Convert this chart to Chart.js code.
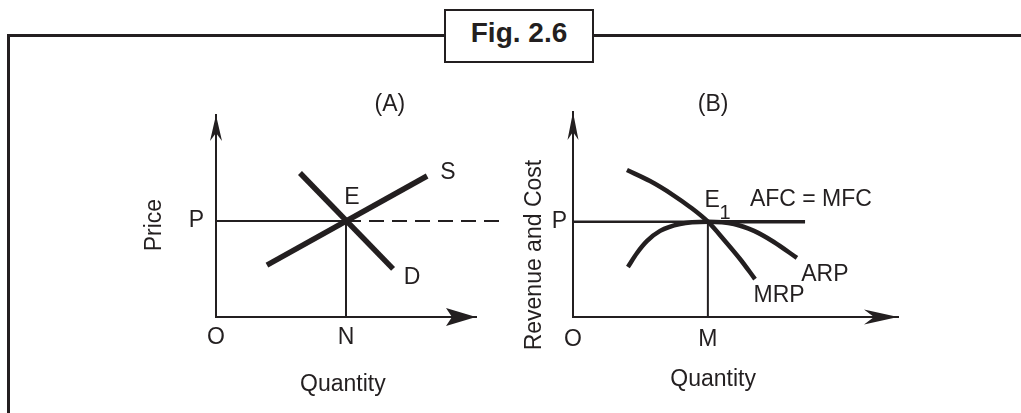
<!DOCTYPE html>
<html>
<head>
<meta charset="utf-8">
<title>Fig. 2.6</title>
<script src="https://cdn.jsdelivr.net/npm/chart.js@4.4.0/dist/chart.umd.min.js"></script>
<style>
  body { margin: 0; width: 1021px; height: 413px; overflow: hidden; background: #fff; position: relative; font-family: "Liberation Sans", Arial, sans-serif; }
  #frame { position: absolute; left: 7px; top: 34px; right: -10px; bottom: -10px; border-top: 3px solid #231f20; border-left: 3px solid #231f20; }
  #title { position: absolute; left: 444px; top: 9px; width: 146px; height: 50px; border: 2px solid #231f20; background: #fff; color: #231f20; font-weight: bold; font-size: 28px; text-align: center; line-height: 44px; }
  canvas { position: absolute; }
  #chartA { left: 110px; top: 70px; }
  #chartB { left: 480px; top: 70px; }
</style>
</head>
<body>
<div id="frame"></div>
<div id="title">Fig. 2.6</div>
<canvas id="chartA" width="410" height="340"></canvas>
<canvas id="chartB" width="530" height="340"></canvas>
<script>
const INK = "#231f20";
const FONT = '"Liberation Sans", Arial, Helvetica, sans-serif';

// (A) supply and demand
const supplyX = [1.96, 8.12];
const supplyY = [2.57, 6.98];
const demandX = [3.23, 6.81];
const demandY = [7.13, 2.38];
const priceA = 4.75;
const quantityN = 5.0;
const dashEndA = 10.92;
const xTicksA = [0, quantityN];
const xTickLabelsA = ["O", "N"];
const yTicksA = [priceA];
const yTickLabelsA = ["P"];

// (B) MRP / ARP against AFC = MFC
const mrpX = [1.66, 2.37, 3.08, 3.6, 4.15, 4.65, 5.14, 5.6];
const mrpY = [7.17, 6.63, 5.95, 5.37, 4.65, 3.76, 2.83, 1.85];
const arpX = [1.69, 1.97, 2.28, 2.68, 3.29, 4.15, 4.95, 5.57, 6.18, 6.89];
const arpY = [2.44, 3.12, 3.71, 4.2, 4.54, 4.65, 4.54, 4.2, 3.66, 2.88];
const priceB = 4.65;
const quantityM = 4.15;
const afcEnd = 7.14;
const xTicksB = [0, quantityM];
const xTickLabelsB = ["O", "M"];
const yTicksB = [priceB];
const yTickLabelsB = ["P"];

function pts(xs, ys) {
  return xs.map((x, i) => ({ x: x, y: ys[i] }));
}

function line(data, width, extra) {
  return Object.assign({
    data: data,
    borderColor: INK,
    borderWidth: width,
    showLine: true,
    pointRadius: 0,
    fill: false,
    clip: false,
  }, extra || {});
}

function arrowHead(ctx, tipX, tipY, dx, dy, len, half, notch) {
  let bx = tipX - dx * len, by = tipY - dy * len;
  let nx = -dy, ny = dx;
  ctx.beginPath();
  ctx.moveTo(tipX, tipY);
  ctx.lineTo(bx + nx * half, by + ny * half);
  ctx.lineTo(tipX - dx * notch, tipY - dy * notch);
  ctx.lineTo(bx - nx * half, by - ny * half);
  ctx.closePath();
  ctx.fill();
}

// arrow heads on the axes + free text labels
const sketch = {
  id: "sketch",
  afterDraw(chart, args, opts) {
    let ctx = chart.ctx;
    let xs = chart.scales.x, ys = chart.scales.y;
    ctx.save();
    ctx.fillStyle = INK;
    let ox = xs.getPixelForValue(0), oy = ys.getPixelForValue(0);
    arrowHead(ctx, xs.getPixelForValue(xs.max), oy, 1, 0, ...opts.xArrow);
    arrowHead(ctx, ox, ys.getPixelForValue(ys.max), 0, -1, ...opts.yArrow);

    opts.labels.forEach((l) => {
      ctx.save();
      ctx.font = (l.size || 23) + "px " + FONT;
      ctx.textAlign = "center";
      ctx.textBaseline = "middle";
      ctx.translate(xs.getPixelForValue(l.x), ys.getPixelForValue(l.y));
      if (l.rotate) ctx.rotate(-Math.PI / 2);
      ctx.fillText(l.text, 0, 0);
      ctx.restore();
    });
    ctx.restore();
  },
};

function axes(xTicks, xLabels, yTicks, yLabels, yWidth, xPad, yPad) {
  return {
    x: {
      type: "linear", min: 0, max: 10,
      grid: { display: false, drawTicks: false },
      border: { display: true, color: INK, width: 2 },
      afterBuildTicks: (s) => { s.ticks = xTicks.map((v) => ({ value: v })); },
      afterFit: (s) => { s.height = 93; },
      ticks: {
        autoSkip: false, maxRotation: 0, padding: xPad, color: INK,
        font: { family: FONT, size: 23 },
        callback: (v, i) => xLabels[i],
      },
    },
    y: {
      type: "linear", min: 0, max: 10,
      grid: { display: false, drawTicks: false },
      border: { display: true, color: INK, width: 2 },
      afterBuildTicks: (s) => { s.ticks = yTicks.map((v) => ({ value: v })); },
      afterFit: (s) => { s.width = yWidth; },
      ticks: {
        autoSkip: false, padding: yPad, color: INK,
        font: { family: FONT, size: 23 },
        callback: (v, i) => yLabels[i],
      },
    },
  };
}

let chartA = new Chart(document.getElementById("chartA"), {
  type: "scatter",
  data: {
    datasets: [
      line(pts(supplyX, supplyY), 5.5),
      line(pts(demandX, demandY), 5.5),
      line([{ x: 0, y: priceA }, { x: quantityN, y: priceA }], 2),
      line([{ x: quantityN, y: priceA }, { x: dashEndA, y: priceA }], 2, { borderDash: [15, 8] }),
      line([{ x: quantityN, y: 0 }, { x: quantityN, y: priceA }], 2),
    ],
  },
  options: {
    responsive: false,
    animation: false,
    devicePixelRatio: 1,
    layout: { padding: { top: 45, right: 44, left: 0, bottom: 0 } },
    scales: axes(xTicksA, xTickLabelsA, yTicksA, yTickLabelsA, 106, 7, 12),
    plugins: {
      legend: { display: false },
      tooltip: { enabled: false },
      sketch: {
        xArrow: [30, 9, 24],
        yArrow: [26, 6, 18],
        labels: [
          { text: "(A)", x: 6.69, y: 10.5 },
          { text: "S", x: 8.92, y: 7.13 },
          { text: "E", x: 5.23, y: 5.89 },
          { text: "D", x: 7.54, y: 1.93 },
          { text: "Quantity", x: 4.88, y: -3.37 },
          { text: "Price", x: -2.35, y: 4.55, rotate: true },
        ],
      },
    },
  },
  plugins: [sketch],
});

let chartB = new Chart(document.getElementById("chartB"), {
  type: "scatter",
  data: {
    datasets: [
      line(pts(mrpX, mrpY), 4.5, { cubicInterpolationMode: "monotone" }),
      line(pts(arpX, arpY), 4.5, { cubicInterpolationMode: "monotone" }),
      line([{ x: 0, y: priceB }, { x: quantityM, y: priceB }], 2.5),
      line([{ x: quantityM, y: priceB }, { x: afcEnd, y: priceB }], 3.5),
      line([{ x: quantityM, y: 0 }, { x: quantityM, y: priceB }], 2),
    ],
  },
  options: {
    responsive: false,
    animation: false,
    devicePixelRatio: 1,
    layout: { padding: { top: 42, right: 112, left: 0, bottom: 0 } },
    scales: axes(xTicksB, xTickLabelsB, yTicksB, yTickLabelsB, 93, 9, 6),
    plugins: {
      legend: { display: false },
      tooltip: { enabled: false },
      sketch: {
        xArrow: [34, 7.5, 24],
        yArrow: [28, 5.5, 20],
        labels: [
          { text: "(B)", x: 4.31, y: 10.34 },
          { text: "E", x: 4.28, y: 5.66 },
          { text: "1", x: 4.68, y: 5.07, size: 20 },
          { text: "AFC = MFC", x: 7.32, y: 5.71 },
          { text: "ARP", x: 7.75, y: 2.05 },
          { text: "MRP", x: 6.34, y: 1.02 },
          { text: "Quantity", x: 4.31, y: -3.07 },
          { text: "Revenue and Cost", x: -1.17, y: 3.02, rotate: true },
        ],
      },
    },
  },
  plugins: [sketch],
});
</script>
</body>
</html>
